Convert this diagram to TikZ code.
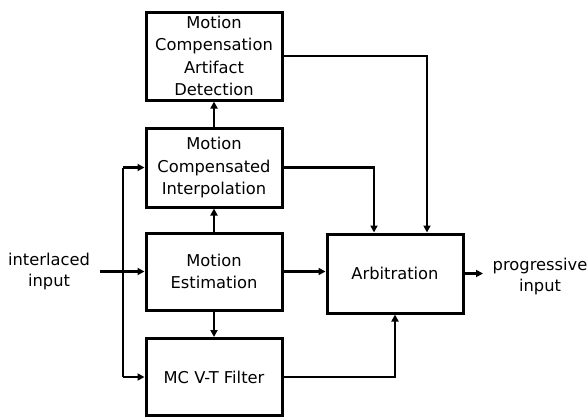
\documentclass[tikz,border=0pt]{standalone}
\usepackage{fontspec}
\setmainfont{DejaVu Sans}
\usetikzlibrary{arrows.meta}
\begin{document}
\begin{tikzpicture}[x=1pt,y=-1pt,
  blk/.style={draw,line width=3pt,inner sep=0pt,align=center,
    minimum width=136pt,font=\fontsize{16.3}{22.5}\selectfont},
  lbl/.style={align=center,inner sep=0pt,font=\fontsize{16.3}{21}\selectfont},
  con/.style={line width=2.8pt,-{Triangle[length=7pt,width=7pt]}},
  wire/.style={line width=2.8pt}]
\useasboundingbox (0,0) rectangle (588,416);
\node[blk,minimum height=88pt] (mcad) at (214,56)
  {Motion\\Compensation\\Artifact\\Detection};
\node[blk,minimum height=79pt] (mci) at (214,167.5)
  {Motion\\Compensated\\Interpolation};
\node[blk,minimum height=77pt] (me) at (214,271.5)
  {Motion\\Estimation};
\node[blk,minimum height=77pt] (flt) at (214,377)
  {MC V-T Filter};
\node[blk,minimum height=79pt] (arb) at (395,273.5)
  {Arbitration};
\node[lbl] (in) at (49,271) {interlaced\\input};
\node[lbl] (out) at (540,276) {progressive\\input};
\coordinate (src) at (100,271.5);
\coordinate (jn) at (123,271.5);
\coordinate (outend) at (483,273.5);
% forward chain
\draw[con] (me.north) -- (mci.south);
\draw[con] (mci.north) -- (mcad.south);
\draw[con] (me.south) -- (flt.north);
% input distribution
\draw[con] (src) -- (me.west);
\draw[wire] (jn |- mci.west) -- (jn |- flt.west);
\draw[con] (jn |- mci.west) -- (mci.west);
\draw[con] (jn |- flt.west) -- (flt.west);
% to arbitration
\draw[con] (mcad.east) -- (427,56) -- (427,0 |- arb.north);
\draw[con] (mci.east) -- (374,167.5) -- (374,0 |- arb.north);
\draw[con] (me.east) -- (me.east -| arb.west);
\draw[con] (flt.east) -- (flt.east -| arb.south) -- (arb.south);
\draw[con] (arb.east) -- (outend);
\end{tikzpicture}
\end{document}
